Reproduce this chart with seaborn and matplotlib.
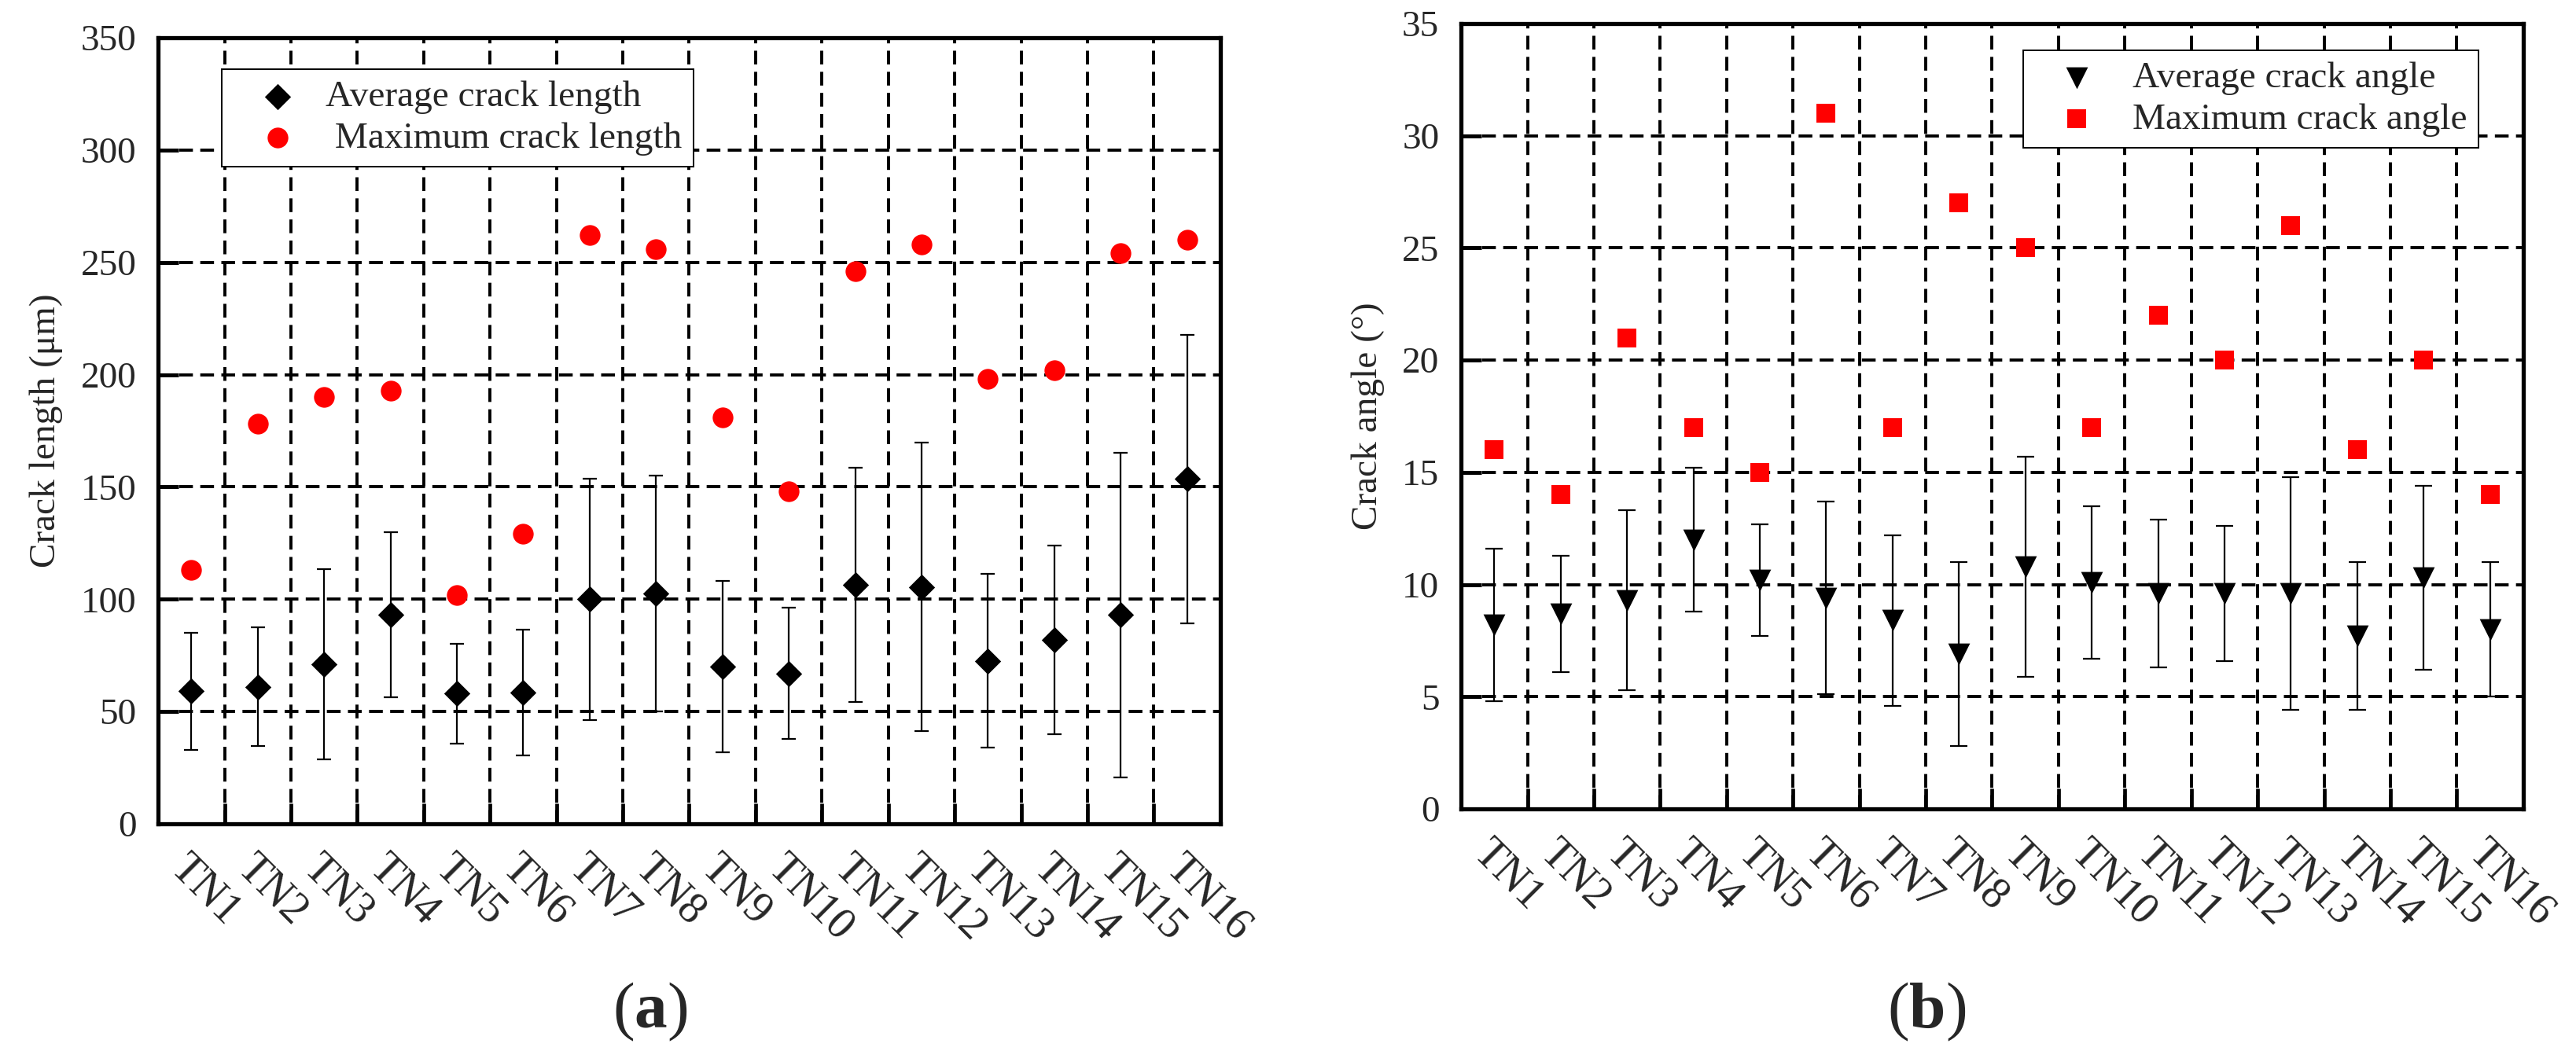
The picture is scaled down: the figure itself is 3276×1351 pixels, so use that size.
import numpy as np
import pandas as pd
import matplotlib
matplotlib.use('Agg')
import matplotlib.pyplot as plt
import seaborn as sns

# ==========================================
# data
# ==========================================
samples = [f'TN{i}' for i in range(1, 17)]

# (a) crack length, um
len_avg = [59, 61, 71, 93, 58, 58.5, 100, 102.5, 70, 67, 106.3, 105.4, 72.6, 81.8, 93, 153.5]
len_sd = [26.2, 26.4, 42.4, 36.7, 22.2, 28, 53.7, 52.5, 38.2, 29.3, 52.2, 64.2, 38.6, 42, 72.3, 64.2]
len_max = [113, 178, 190, 193, 102, 129, 262, 256, 181, 148, 246, 258, 198, 202, 254, 260]

# (b) crack angle, degree
ang_avg = [8.2, 8.7, 9.3, 12.0, 10.2, 9.4, 8.4, 6.9, 10.8, 10.1, 9.6, 9.6, 9.6, 7.7, 10.3, 8.0]
ang_sd = [3.4, 2.6, 4.0, 3.2, 2.5, 4.3, 3.8, 4.1, 4.9, 3.4, 3.3, 3.0, 5.2, 3.3, 4.1, 3.0]
ang_max = [16, 14, 21, 17, 15, 31, 17, 27, 25, 17, 22, 20, 26, 16, 20, 14]

# ==========================================
# style
# ==========================================
sns.set_theme(style='white')
plt.rcParams['font.family'] = ['Liberation Serif', 'DejaVu Serif']
plt.rcParams['mathtext.fontset'] = 'custom'
plt.rcParams['mathtext.rm'] = 'Liberation Serif'
plt.rcParams['mathtext.bf'] = 'Liberation Serif:bold'

FS = 17
grid_kw = dict(color='black', linestyle=(0, (4.5, 2.4)), linewidth=1.4)

df_len = pd.DataFrame({'sample': samples, 'avg': len_avg, 'sd': len_sd, 'max': len_max})
df_ang = pd.DataFrame({'sample': samples, 'avg': ang_avg, 'sd': ang_sd, 'max': ang_max})
df_len['pos'] = np.arange(len(samples)) + 0.5
df_ang['pos'] = np.arange(len(samples)) + 0.5

fig = plt.figure(figsize=(16.38, 6.755), dpi=200)
ax1 = fig.add_axes([0.0614, 0.2243, 0.4123, 0.7402])
ax2 = fig.add_axes([0.5672, 0.2383, 0.4123, 0.7395])


def style_axes(ax, ymax, ystep, ylabel):
    ax.set_xlim(0, 16)
    ax.set_ylim(0, ymax)
    ax.set_xticks(df_len['pos'])
    ax.set_xticklabels(samples, rotation=-45, ha='left', va='top',
                       rotation_mode='anchor', fontsize=20)
    ax.set_xticks(np.arange(1, 16), minor=True)
    ax.tick_params(axis='x', which='major', length=0, pad=11)
    ax.tick_params(axis='x', which='minor', direction='in', length=9.4,
                   width=1.7, color='black', bottom=True)
    ax.set_yticks(np.arange(0, ymax + 0.1, ystep))
    ax.tick_params(axis='y', direction='in', length=9.5, width=1.8,
                   pad=10, labelsize=FS, color='black', left=True)
    ax.grid(False)
    ax.xaxis.grid(True, which='minor', **grid_kw)
    ax.yaxis.grid(True, which='major', **grid_kw)
    ax.set_axisbelow(True)
    for sp in ax.spines.values():
        sp.set_color('black')
        sp.set_linewidth(1.9)
    ax.set_xlabel('')
    ax.set_ylabel(ylabel, fontsize=FS, labelpad=8)


# ------------------------------------------
# (a) crack length
# ------------------------------------------
ax1.errorbar(df_len['pos'], df_len['avg'], yerr=df_len['sd'], fmt='none',
             ecolor='black', elinewidth=0.8, capsize=3.4, capthick=0.8, zorder=3)
sns.scatterplot(data=df_len, x='pos', y='avg', marker='D', s=72, color='black',
                linewidth=0, label='Average crack length', ax=ax1, zorder=4)
sns.scatterplot(data=df_len, x='pos', y='max', marker='o', s=90, color='red',
                linewidth=0, label=' Maximum crack length', ax=ax1, zorder=4)
style_axes(ax1, 350, 50, 'Crack length (μm)')
leg1 = ax1.legend(loc='upper left', bbox_to_anchor=(0.06, 0.96), fontsize=FS,
                  frameon=True, fancybox=False, edgecolor='black', framealpha=1,
                  borderpad=0.3, labelspacing=0.2, handlelength=2.4,
                  handletextpad=0.1, borderaxespad=0)
leg1.get_frame().set_linewidth(0.7)

# ------------------------------------------
# (b) crack angle
# ------------------------------------------
ax2.errorbar(df_ang['pos'], df_ang['avg'], yerr=df_ang['sd'], fmt='none',
             ecolor='black', elinewidth=0.8, capsize=3.8, capthick=0.8, zorder=3)
sns.scatterplot(data=df_ang, x='pos', y='avg', marker='v', s=100, color='black',
                linewidth=0, label='Average crack angle', ax=ax2, zorder=4)
sns.scatterplot(data=df_ang, x='pos', y='max', marker='s', s=69, color='red',
                linewidth=0, label='Maximum crack angle', ax=ax2, zorder=4)
style_axes(ax2, 35, 5, 'Crack angle (°)')
leg2 = ax2.legend(loc='upper left', bbox_to_anchor=(0.529, 0.966), fontsize=FS,
                  frameon=True, fancybox=False, edgecolor='black', framealpha=1,
                  borderpad=0.3, labelspacing=0.2, handlelength=2.3,
                  handletextpad=0.35, borderaxespad=0)
leg2.get_frame().set_linewidth(0.7)

# panel labels
fig.text(0.2524, 0.0474, '(' + r'$\mathbf{a}$' + ')', ha='center', va='center', fontsize=30)
fig.text(0.748, 0.0474, '(' + r'$\mathbf{b}$' + ')', ha='center', va='center', fontsize=30)

fig.savefig('out.png', dpi=200)
plt.close(fig)
